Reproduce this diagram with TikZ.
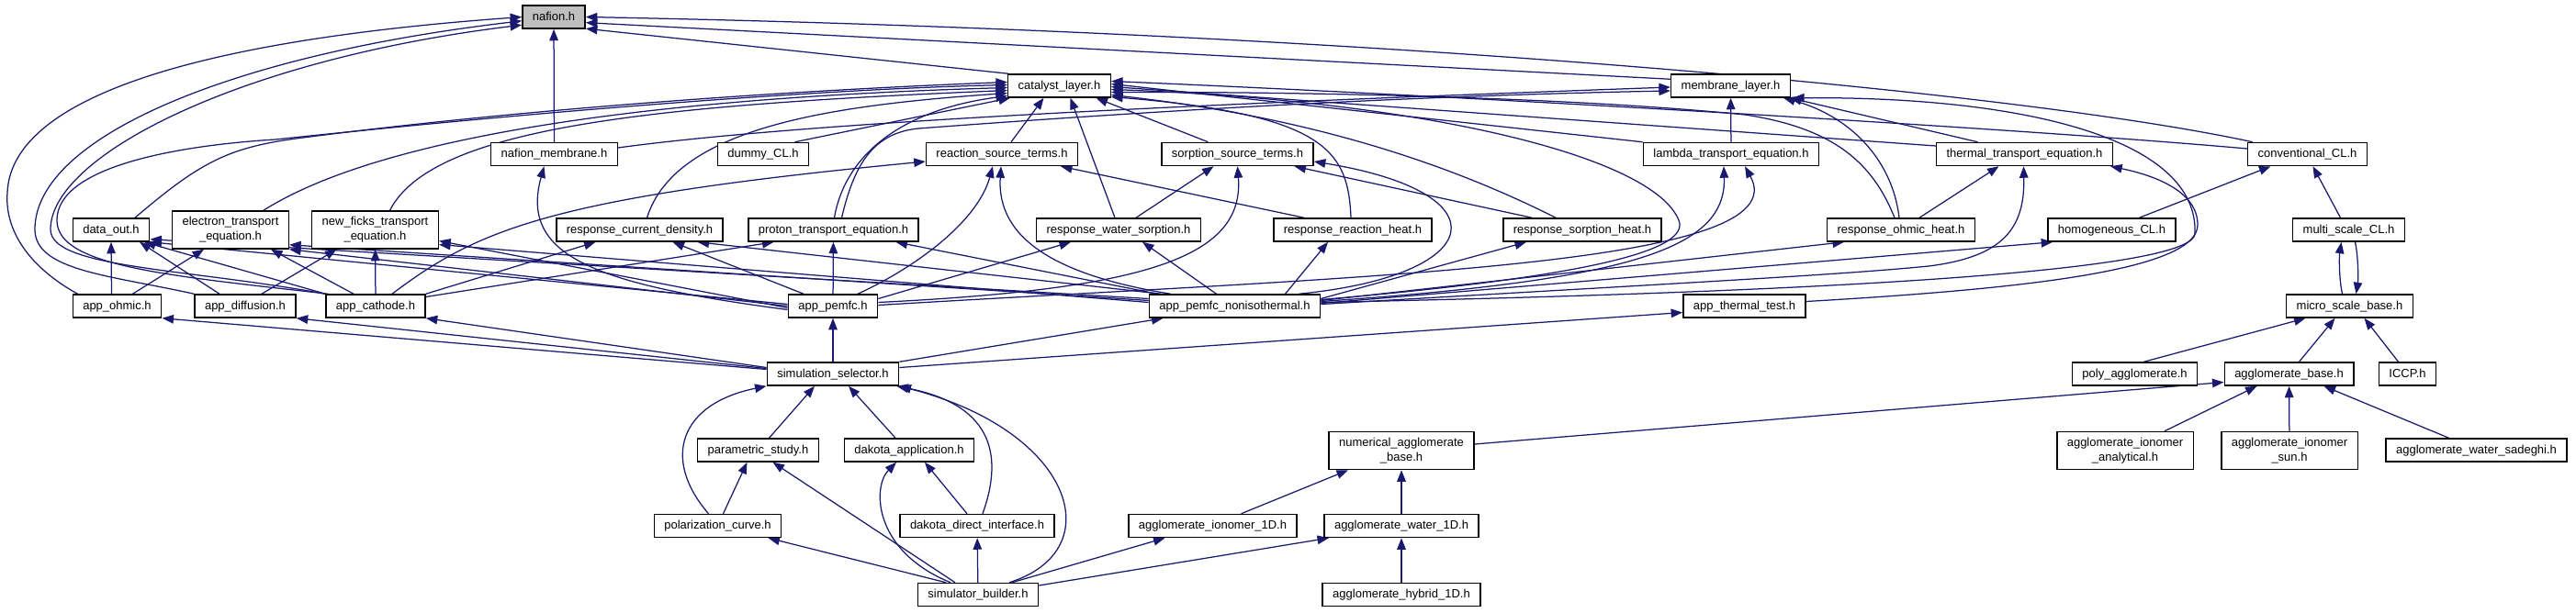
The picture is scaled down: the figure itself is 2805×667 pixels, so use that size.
\documentclass[tikz,border=0pt]{standalone}
\usepackage{fontspec}
\setmainfont{Liberation Sans}
\usetikzlibrary{arrows.meta}
\definecolor{edgeblue}{HTML}{191970}
\definecolor{hlgray}{HTML}{BFBFBF}
\pgfdeclarelayer{back}
\pgfdeclarelayer{edges}
\pgfsetlayers{back,edges,main}
\begin{document}
\begin{tikzpicture}[x=1pt,y=-1pt,
  box/.style={draw=black, line width=1.5pt, fill=white, inner xsep=11pt, inner ysep=0pt,
    minimum height=25pt, text height=9.5pt, text depth=2.5pt, font=\fontsize{13pt}{15pt}\selectfont},
  box2/.style={draw=black, line width=1.5pt, fill=white, inner xsep=11pt, inner ysep=0pt,
    minimum height=41pt, align=center, font=\fontsize{13pt}{16pt}\selectfont},
  e/.style={draw=edgeblue, line width=1.25pt, -{Triangle[length=12.5pt,width=9.5pt]}}]
\useasboundingbox (0,0) rectangle (2805,667);
\begin{pgfonlayer}{back}
\fill[white] (0,0) rectangle (2805,667);
\end{pgfonlayer}

% ---------------- nodes
\node[box,fill=hlgray] (nafion) at (603,18.5) {nafion.h};
\node[box] (catalyst) at (1153.5,93.5) {catalyst\_layer.h};
\node[box] (membrane) at (1884.5,93.5) {membrane\_layer.h};
\node[box] (nafmem) at (603.5,168) {nafion\_membrane.h};
\node[box] (dummy) at (831,168) {dummy\_CL.h};
\node[box] (reaction) at (1091,168) {reaction\_source\_terms.h};
\node[box] (sorption) at (1347.5,168) {sorption\_source\_terms.h};
\node[box] (lambda) at (1885,168) {lambda\_transport\_equation.h};
\node[box] (thermal) at (2204.5,168) {thermal\_transport\_equation.h};
\node[box] (conventional) at (2512.5,168) {conventional\_CL.h};
\node[box] (dataout) at (121,250.5) {data\_out.h};
\node[box2] (electron) at (251,250.5) {electron\_transport\\\_equation.h};
\node[box2] (newficks) at (408.5,250.5) {new\_ficks\_transport\\\_equation.h};
\node[box] (respcurrent) at (696.5,250.5) {response\_current\_density.h};
\node[box] (proton) at (907.5,250.5) {proton\_transport\_equation.h};
\node[box] (respwater) at (1218,250.5) {response\_water\_sorption.h};
\node[box] (respreact) at (1473,250.5) {response\_reaction\_heat.h};
\node[box] (respsorp) at (1723,250.5) {response\_sorption\_heat.h};
\node[box] (respohmic) at (2070,250.5) {response\_ohmic\_heat.h};
\node[box] (homog) at (2299.5,250.5) {homogeneous\_CL.h};
\node[box] (multiscale) at (2557.5,250.5) {multi\_scale\_CL.h};
\node[box] (appohmic) at (127.5,333.5) {app\_ohmic.h};
\node[box] (appdiff) at (267,333.5) {app\_diffusion.h};
\node[box] (appcath) at (409,333.5) {app\_cathode.h};
\node[box] (apppemfc) at (907,333.5) {app\_pemfc.h};
\node[box] (appnoniso) at (1344.5,333.5) {app\_pemfc\_nonisothermal.h};
\node[box] (appthermal) at (1899.5,333.5) {app\_thermal\_test.h};
\node[box] (microscale) at (2558.5,333.5) {micro\_scale\_base.h};
\node[box] (simsel) at (907,407.5) {simulation\_selector.h};
\node[box] (poly) at (2324.5,407.5) {poly\_agglomerate.h};
\node[box] (aggbase) at (2492.5,407.5) {agglomerate\_base.h};
\node[box] (iccp) at (2621.5,407.5) {ICCP.h};
\node[box] (param) at (825.5,490.5) {parametric\_study.h};
\node[box] (dakapp) at (990,490.5) {dakota\_application.h};
\node[box2] (numagg) at (1526,491) {numerical\_agglomerate\\\_base.h};
\node[box2] (aggionan) at (2314,491) {agglomerate\_ionomer\\\_analytical.h};
\node[box2] (aggionsun) at (2493,491) {agglomerate\_ionomer\\\_sun.h};
\node[box] (aggwatsad) at (2696.5,490.5) {agglomerate\_water\_sadeghi.h};
\node[box] (polar) at (781.5,573) {polarization\_curve.h};
\node[box] (dakdirect) at (1064,573) {dakota\_direct\_interface.h};
\node[box] (aggion1d) at (1320.5,573) {agglomerate\_ionomer\_1D.h};
\node[box] (aggwat1d) at (1526,573) {agglomerate\_water\_1D.h};
\node[box] (simbuild) at (1065,648) {simulator\_builder.h};
\node[box] (agghyb) at (1526,648) {agglomerate\_hybrid\_1D.h};

\begin{pgfonlayer}{edges}
% ---- into nafion.h
\draw[e] ([xshift=1pt]catalyst.north west) -- (nafion.-20);
\draw[e] ([yshift=-6pt]membrane.north west) -- (nafion.-10);
\draw[e] ([xshift=6pt]conventional.north west) .. controls (2200,100) and (1500,35) .. (nafion.east);
\draw[e] (nafmem) -- (nafion);
\draw[e] ([xshift=6pt]appohmic.north west) .. controls (30,290) and (5,250) .. (8,210) .. controls (12,110) and (200,45) .. (nafion.180);
\draw[e] (appdiff.north west) .. controls (120,300) and (38,295) .. (38,250) .. controls (38,150) and (250,60) .. (nafion.187);
\draw[e] (appcath.north west) .. controls (200,292) and (55,292) .. (55,250) .. controls (55,170) and (260,65) .. (nafion.194);

% ---- into catalyst_layer.h (left)
\draw[e] ([xshift=26pt]dataout.north) .. controls (220,175) and (250,160) .. (330,150) .. controls (600,115) and (900,97) .. ([yshift=4pt]catalyst.west);
\draw[e] ([xshift=3pt]appcath.north west) .. controls (180,300) and (62,290) .. (62,240) .. controls (62,180) and (200,158) .. (300,152) .. controls (600,120) and (900,97) .. ([yshift=1pt]catalyst.west);
\draw[e] ([xshift=36pt]electron.north) .. controls (380,170) and (600,110) .. ([yshift=-2pt]catalyst.west);
\draw[e] ([xshift=16pt]newficks.north) .. controls (470,140) and (700,115) .. ([yshift=-5pt]catalyst.west);
\draw[e] ([xshift=8pt]respcurrent.north) .. controls (735,140) and (900,115) .. ([yshift=-8pt]catalyst.west);
\draw[e] ([xshift=1pt]proton.north) .. controls (920,170) and (980,120) .. ([yshift=-11pt]catalyst.west);
\draw[e] ([xshift=-16pt]dummy.north east) -- ([xshift=3pt]catalyst.south west);
% ---- into catalyst_layer.h (bottom)
\draw[e] ([xshift=10pt]reaction.north) -- ([xshift=-17pt]catalyst.south);
\draw[e] ([xshift=-4pt]respwater.north) -- ([xshift=12pt]catalyst.south);
\draw[e] ([xshift=-32pt]sorption.north) -- ([xshift=40pt]catalyst.south);
% ---- into catalyst_layer.h (right)
\draw[e] ([yshift=6pt]conventional.west) .. controls (2200,140) and (1600,105) .. ([yshift=5pt]catalyst.east);
\draw[e] (lambda.north west) -- ([yshift=2pt]catalyst.east);
\draw[e] ([yshift=9pt]thermal.west) -- ([yshift=-1pt]catalyst.east);
\draw[e] ([yshift=7pt]appnoniso.east) .. controls (1750,300) and (1840,270) .. (1828,240) .. controls (1800,170) and (1550,110) .. ([yshift=-4pt]catalyst.east);
\draw[e] ([xshift=-7pt]respohmic.north) .. controls (2040,180) and (2000,140) .. (1900,125) .. controls (1700,105) and (1400,100) .. ([yshift=-7pt]catalyst.east);
\draw[e] ([xshift=-29pt]respsorp.north) .. controls (1600,190) and (1450,130) .. ([yshift=-10pt]catalyst.east);
\draw[e] ([xshift=-2pt]respreact.north) .. controls (1468,165) and (1445,125) .. ([yshift=-12pt]catalyst.east);

% ---- into membrane_layer.h
\draw[e] ([yshift=7pt]nafmem.east) .. controls (900,130) and (1400,110) .. ([yshift=-1.5pt]membrane.west);
\draw[e] ([xshift=9pt]proton.north) .. controls (930,180) and (950,145) .. (1000,140) .. controls (1200,125) and (1500,105) .. ([yshift=-5.5pt]membrane.west);
\draw[e] (lambda) -- (membrane);
\draw[e] ([xshift=-51pt]thermal.north) -- ([xshift=-1pt]membrane.south east);
\draw[e] ([xshift=-2pt]respohmic.north) .. controls (2060,170) and (2010,125) .. ([xshift=-8pt]membrane.south east);
\draw[e] ([yshift=4pt]appnoniso.east) .. controls (1900,320) and (2385,300) .. (2390,255) .. controls (2395,150) and (2200,105) .. ([xshift=2pt]membrane.south east);

% ---- into thermal_transport_equation.h
\draw[e] ([yshift=5pt]appthermal.east) .. controls (2200,315) and (2393,295) .. (2393,245) .. controls (2393,210) and (2350,192) .. ([xshift=-3pt]thermal.south east);
\draw[e] ([yshift=2pt]appnoniso.east) .. controls (1800,310) and (2000,300) .. (2100,290) .. controls (2180,280) and (2205,250) .. ([xshift=-1pt]thermal.south);
\draw[e] ([xshift=20pt]respohmic.north) -- ([xshift=-28pt]thermal.south);

% ---- app row -> middle row
\draw[e] ([xshift=-6pt]appohmic.north) -- (dataout.south);
\draw[e] ([xshift=-28pt]appdiff.north) -- ([xshift=31pt]dataout.south);
\draw[e] (appcath.north west) -- ([xshift=36pt]dataout.south);
\draw[e] ([yshift=2pt]apppemfc.west) -- (dataout.south east);
\draw[e] ([yshift=8pt]appnoniso.west) -- ([yshift=3pt]dataout.south east);
\draw[e] ([xshift=17pt]appohmic.north) -- ([xshift=-29pt]electron.south);
\draw[e] ([xshift=-24pt]appcath.north) -- ([xshift=44pt]electron.south);
\draw[e] (apppemfc.west) -- (electron.south east);
\draw[e] ([yshift=6pt]appnoniso.west) -- ([yshift=5pt]electron.south east);
\draw[e] ([xshift=18pt]appdiff.north) -- ([xshift=-42pt]newficks.south);
\draw[e] (appcath) -- (newficks);
\draw[e] ([yshift=-2pt]apppemfc.west) -- ([yshift=-12pt]newficks.east);
\draw[e] ([yshift=4pt]appnoniso.west) -- ([yshift=-16pt]newficks.east);
\draw[e] (appcath.north east) -- ([xshift=-48pt]respcurrent.south);
\draw[e] ([xshift=-32pt]apppemfc.north) -- ([xshift=36pt]respcurrent.south);
\draw[e] ([xshift=-80pt]appnoniso.north) -- ([xshift=63pt]respcurrent.south);
\draw[e] ([yshift=10pt]appcath.east) -- ([xshift=-65pt]proton.south);
\draw[e] (apppemfc) -- (proton);
\draw[e] ([xshift=-84pt]appnoniso.north) -- ([xshift=68pt]proton.south);
\draw[e] ([xshift=18pt]appcath.north) .. controls (520,250) and (600,215) .. ([yshift=-8pt]reaction.west);
\draw[e] ([xshift=27pt]apppemfc.north) .. controls (1000,290) and (1065,240) .. ([xshift=-10pt]reaction.south);
\draw[e] ([xshift=-70pt]appnoniso.north) .. controls (1150,300) and (1085,260) .. ([xshift=-1pt]reaction.south);
\draw[e] ([xshift=-53pt]respreact.north) -- ([xshift=64pt]reaction.south);
\draw[e] ([xshift=19pt]respwater.north) -- ([xshift=-26pt]sorption.south);
\draw[e] ([yshift=4pt]apppemfc.east) .. controls (1250,315) and (1355,280) .. (sorption.south);
\draw[e] ([xshift=70pt]appnoniso.north) .. controls (1620,300) and (1640,210) .. ([yshift=-8pt]sorption.east);
\draw[e] ([xshift=-55pt]respsorp.north) -- ([xshift=62pt]sorption.south);
\draw[e] ([yshift=8pt]apppemfc.east) -- ([xshift=-52pt]respwater.south);
\draw[e] ([xshift=-20pt]appnoniso.north) -- ([xshift=26pt]respwater.south);
\draw[e] ([xshift=55pt]appnoniso.north) -- ([xshift=-27pt]respreact.south);
\draw[e] ([yshift=8pt]appnoniso.east) -- ([xshift=-61pt]respsorp.south);
\draw[e] ([yshift=6pt]appnoniso.east) -- ([xshift=-62pt]respohmic.south);
\draw[e] ([yshift=5pt]appnoniso.east) .. controls (1780,305) and (1880,270) .. ([xshift=-8pt]lambda.south);
\draw[e] ([yshift=1pt]apppemfc.east) .. controls (1500,300) and (1960,290) .. ([xshift=15pt]lambda.south);
\draw[e] ([yshift=3pt]appnoniso.east) -- ([xshift=6pt]homog.south west);
\draw[e] ([yshift=-4pt]apppemfc.west) .. controls (650,310) and (565,280) .. ([xshift=-11pt]nafmem.south);

% ---- right cluster
\draw[e] ([xshift=30pt]homog.north) -- ([xshift=-40pt]conventional.south);
\draw[e] ([xshift=-9pt]multiscale.north) -- ([xshift=6pt]conventional.south);
\draw[e] ([xshift=-8pt]microscale.north) .. controls (2547,305) and (2547,280) .. ([xshift=-8pt]multiscale.south);
\draw[e] ([xshift=7pt]multiscale.south) .. controls (2568,280) and (2568,305) .. ([xshift=7pt]microscale.north);
\draw[e] ([xshift=10pt]poly.north) -- ([xshift=-48pt]microscale.south);
\draw[e] ([xshift=11pt]aggbase.north) -- ([xshift=-16pt]microscale.south);
\draw[e] ([xshift=-10pt]iccp.north) -- ([xshift=16pt]microscale.south);
\draw[e] ([xshift=43pt]aggionan.north) -- ([xshift=-35pt]aggbase.south);
\draw[e] (aggionsun) -- (aggbase);
\draw[e] ([xshift=-30pt]aggwatsad.north) -- ([xshift=38pt]aggbase.south);
\draw[e] ([yshift=7pt]numagg.east) -- ([yshift=-9pt]aggbase.west);
\draw[e] ([xshift=31pt]aggion1d.north) -- ([xshift=-58pt]numagg.south);
\draw[e] (aggwat1d) -- (numagg);
\draw[e] (agghyb) -- (aggwat1d);

% ---- bottom cluster
\draw[e] ([xshift=37pt]simbuild.north) -- ([xshift=-52pt]aggion1d.south);
\draw[e] ([yshift=10pt]simbuild.east) -- ([xshift=-79pt]aggwat1d.south);
\draw[e] ([xshift=-35pt]simbuild.north) -- ([xshift=55pt]polar.south);
\draw[e] ([xshift=-25pt]simbuild.north) -- ([xshift=16pt]param.south);
\draw[e] (simbuild) -- (dakdirect);
\draw[e] ([xshift=-30pt]simbuild.north) .. controls (950,600) and (950,530) .. ([xshift=-14pt]dakapp.south);
\draw[e] ([xshift=34pt]simbuild.north) .. controls (1210,600) and (1170,470) .. (simsel.south east);
\draw[e] ([xshift=6pt]dakdirect.north) .. controls (1095,490) and (1075,440) .. ([xshift=-3pt]simsel.south east);
\draw[e] ([xshift=-11pt]dakdirect.north) -- ([xshift=17pt]dakapp.south);
\draw[e] ([xshift=-10pt]polar.north) .. controls (720,500) and (740,440) .. (simsel.south west);
\draw[e] ([xshift=6pt]polar.north) -- ([xshift=-12pt]param.south);
\draw[e] ([xshift=12pt]param.north) -- ([xshift=-20pt]simsel.south);
\draw[e] ([xshift=-15pt]dakapp.north) -- ([xshift=17pt]simsel.south);
\draw[e] (simsel) -- (apppemfc);
\draw[e] (simsel.north east) -- ([xshift=-78pt]appnoniso.south);
\draw[e] ([yshift=7pt]simsel.east) -- ([yshift=-7pt]appthermal.west);
\draw[e] ([yshift=5pt]simsel.west) -- (appohmic.south east);
\draw[e] ([yshift=6pt]simsel.west) -- (appdiff.south east);
\draw[e] ([yshift=7pt]simsel.west) -- (appcath.south east);
\end{pgfonlayer}
\end{tikzpicture}
\end{document}
